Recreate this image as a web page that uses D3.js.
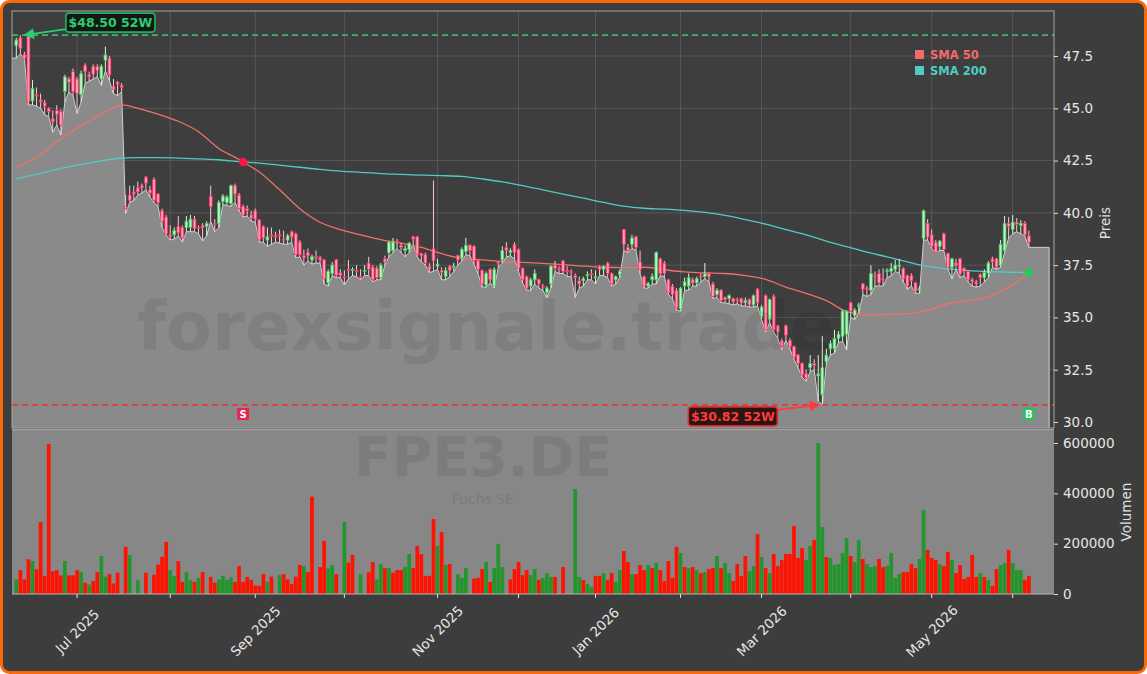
<!DOCTYPE html>
<html><head><meta charset="utf-8">
<script src="https://cdn.jsdelivr.net/npm/d3@7"></script>
<style>html,body{margin:0;padding:0;background:#fff;overflow:hidden}svg{display:block;font-family:'DejaVu Sans',sans-serif}</style>
</head><body><svg id="c" width="1147" height="674"></svg>
<script>
// ---------- DATA (one bar per XETRA trading day, 10 Jun 2025 .. 5 Jun 2026) ----------
const opens = [
47.99,48.38,47.58,48.45,45.35,45.65,45.40,45.28,45.00,44.50,
44.90,44.85,45.80,46.40,46.75,46.40,45.65,47.05,46.60,47.00,
47.00,46.40,47.30,47.40,46.05,46.25,46.10,40.30,40.85,41.00,
41.20,41.30,41.70,41.10,41.60,40.90,40.10,39.80,38.95,38.95,
39.35,39.30,39.30,39.30,39.70,39.30,39.40,39.35,40.80,39.50,
39.50,40.55,40.50,40.45,41.30,40.85,40.30,40.20,39.90,40.10,
39.66,39.35,38.70,38.95,38.90,38.95,38.75,38.70,39.10,39.00,
38.60,37.95,38.10,37.75,37.90,37.85,37.75,36.65,37.10,37.75,
37.15,36.95,37.30,37.30,37.25,36.95,37.25,37.60,37.40,37.35,
36.90,37.80,38.10,38.20,38.65,38.45,38.20,38.25,38.85,38.85,
38.05,38.00,37.45,38.30,37.45,37.25,36.95,37.45,37.40,37.95,
37.85,38.15,38.45,38.40,37.70,37.25,36.55,37.30,36.50,37.65,
37.75,38.35,38.10,38.50,38.25,37.35,36.95,36.50,36.80,36.80,
36.50,36.20,36.60,37.50,37.35,37.70,37.25,37.20,37.00,36.75,
36.75,37.00,37.10,36.90,37.45,37.30,37.60,37.10,36.80,37.05,
39.20,38.35,38.50,38.85,37.65,36.95,36.50,36.80,36.80,37.80,
37.60,36.80,36.50,36.30,35.40,36.50,36.50,36.80,36.65,37.00,
36.95,37.10,36.60,36.10,36.30,35.95,35.90,35.90,35.85,35.90,
35.70,35.85,35.60,36.35,35.05,36.05,34.90,36.00,34.60,33.90,
34.60,33.90,33.60,33.20,32.80,32.30,32.60,32.80,32.20,31.30,
32.90,33.50,33.50,34.00,34.10,34.20,35.70,35.10,35.55,36.60,
36.40,36.30,37.00,37.10,36.85,37.20,37.20,37.30,37.45,37.35,
37.00,37.00,36.65,36.30,38.78,39.50,38.95,38.60,38.40,39.00,
38.05,37.40,37.60,37.80,37.35,37.20,36.80,36.70,37.05,36.90,
37.10,37.80,37.80,37.50,38.20,39.50,39.20,39.55,39.40,39.50,
38.90];
const highs = [
48.37,48.50,47.70,48.50,46.35,46.00,45.70,45.40,45.05,44.90,
45.15,44.95,46.60,46.50,46.90,46.50,46.80,47.15,46.75,47.10,
47.10,47.10,47.95,47.50,46.40,46.30,46.20,40.85,41.30,41.30,
41.50,41.40,41.76,41.30,41.70,40.95,40.20,39.90,39.40,39.30,
39.85,39.40,39.85,39.90,39.85,39.40,39.50,39.60,41.30,39.70,
40.60,40.90,40.85,41.35,41.40,40.95,40.40,40.35,40.10,40.20,
39.70,39.40,39.30,39.30,39.10,39.20,39.15,39.00,39.15,39.05,
38.70,38.25,38.30,38.00,38.20,37.95,37.80,37.30,37.65,37.80,
37.30,37.25,37.75,37.40,37.50,37.30,37.50,37.90,37.50,37.45,
37.60,37.95,38.65,38.80,38.75,38.55,38.45,38.60,38.90,38.90,
38.10,38.10,37.60,41.55,37.80,37.40,37.40,37.50,37.60,38.00,
38.35,38.80,38.50,38.45,37.75,37.30,37.20,37.35,37.40,37.70,
38.40,38.60,38.30,38.60,38.30,37.40,37.00,36.90,37.30,36.85,
36.60,36.50,37.50,37.70,37.45,37.75,37.45,37.30,37.10,36.95,
36.95,37.20,37.30,37.25,37.50,37.50,37.65,37.15,37.00,37.30,
39.20,38.50,38.95,38.90,38.20,37.00,36.70,37.10,38.15,37.85,
37.70,36.85,36.60,36.40,36.45,36.90,37.10,36.90,36.95,37.10,
37.60,37.15,36.70,36.40,36.35,36.00,36.10,35.95,35.95,35.95,
35.95,35.90,36.10,36.40,35.60,36.10,35.90,36.10,34.65,34.00,
34.65,34.00,33.65,33.25,32.85,32.50,33.20,33.00,33.20,34.10,
33.50,33.90,34.40,34.35,35.35,35.35,35.75,35.45,35.70,36.65,
36.50,37.50,37.20,37.30,37.35,37.35,37.60,37.75,37.80,37.40,
37.05,37.10,36.70,36.50,40.15,39.70,39.20,38.70,38.70,39.05,
38.10,37.85,37.80,37.85,37.40,37.25,36.90,36.80,37.10,37.30,
37.70,37.90,37.85,38.70,39.85,39.80,39.90,39.75,39.65,39.60,
39.15];
const lows = [
47.40,47.60,47.35,45.16,45.16,45.10,45.00,44.70,44.60,43.85,
44.20,43.72,45.30,45.80,45.60,44.75,45.30,46.20,46.30,46.40,
46.50,46.10,46.80,46.30,45.70,45.60,45.80,39.95,40.50,40.60,
40.85,40.95,41.10,40.75,40.50,40.30,39.30,38.95,38.70,38.75,
38.90,38.60,39.10,39.10,39.10,39.00,38.65,38.90,39.60,39.10,
39.30,40.40,40.35,40.30,40.50,40.10,39.80,39.85,39.60,39.55,
38.60,38.60,38.40,38.50,38.60,38.55,38.50,38.50,38.60,37.85,
37.90,37.50,37.70,37.55,37.60,37.60,36.60,36.50,37.00,36.90,
36.90,36.55,36.85,37.00,36.95,36.80,37.00,37.00,36.70,36.80,
36.80,37.50,37.90,38.10,38.30,38.10,37.90,38.10,38.50,37.90,
37.65,37.50,37.15,37.20,37.30,36.80,36.80,36.95,37.20,37.50,
37.70,38.00,37.95,37.55,37.10,36.45,36.45,36.65,36.40,37.40,
37.60,37.90,37.95,37.80,37.20,36.65,36.30,36.30,36.60,36.40,
36.30,35.95,36.40,37.20,37.10,37.10,36.95,36.95,35.95,36.40,
36.50,36.80,36.80,36.60,37.00,37.00,36.90,36.50,36.60,36.90,
38.20,38.10,38.30,38.20,37.10,36.40,36.40,36.60,36.60,37.00,
36.95,36.10,35.90,35.35,35.30,36.30,36.30,36.50,36.50,36.70,
36.85,36.70,35.90,35.95,35.70,35.70,35.65,35.60,35.65,35.55,
35.55,35.50,35.50,35.55,34.90,34.30,34.75,34.30,34.00,33.45,
33.90,33.50,33.00,32.60,32.15,31.95,32.40,32.50,31.00,30.82,
32.80,33.20,33.30,33.80,33.85,33.45,35.00,34.90,35.20,36.10,
36.00,36.10,36.50,36.50,36.50,36.90,37.00,37.20,37.10,36.70,
36.35,36.50,36.15,36.15,38.70,38.70,38.30,38.10,38.20,38.20,
37.30,36.85,37.30,36.90,37.00,36.70,36.50,36.45,36.50,36.70,
36.90,37.40,37.30,37.40,38.10,38.80,39.00,39.10,39.00,38.90,
38.35];
const closes = [
48.26,47.87,47.39,45.30,45.95,45.60,45.30,45.10,44.85,44.35,
44.70,44.20,46.50,46.25,45.80,45.70,46.65,46.75,46.50,46.62,
46.80,47.00,47.55,46.60,45.90,46.15,46.00,40.20,40.60,40.90,
41.00,41.20,41.42,40.95,40.60,40.50,39.60,39.00,38.85,39.15,
39.05,38.80,39.60,39.70,39.25,39.25,39.30,39.50,40.30,39.45,
40.50,40.80,40.75,41.30,40.90,40.20,39.90,40.10,39.75,39.70,
38.70,38.80,38.85,38.90,38.85,38.90,38.70,38.90,38.85,38.00,
38.00,37.85,37.95,37.90,37.85,37.75,36.85,37.20,37.50,37.00,
37.00,36.90,37.25,37.30,37.20,36.90,37.25,37.30,36.80,36.90,
37.50,37.65,38.60,38.60,38.60,38.35,38.30,38.55,38.75,38.00,
37.95,37.60,37.30,37.70,37.55,37.15,37.25,37.25,37.45,37.75,
38.25,38.45,38.20,37.70,37.30,36.60,37.10,36.80,37.30,37.60,
38.20,38.20,38.20,38.10,37.35,36.80,36.40,36.80,37.10,36.60,
36.45,36.40,37.45,37.35,37.30,37.20,37.20,37.15,36.90,36.60,
36.85,37.05,37.05,36.95,37.30,37.45,37.10,36.60,36.95,37.20,
38.50,38.20,38.80,38.35,37.30,36.50,36.62,36.95,38.10,37.10,
37.10,36.20,36.10,35.45,36.40,36.70,36.90,36.65,36.85,36.95,
37.10,36.95,36.00,36.30,35.80,35.85,36.05,35.75,35.80,35.70,
35.80,35.60,36.05,35.70,35.50,34.40,35.85,34.40,34.30,33.60,
34.15,33.60,33.10,32.80,32.25,32.10,32.80,32.70,32.30,32.60,
33.20,33.75,34.00,34.20,35.30,35.30,35.30,35.35,35.60,36.35,
36.35,37.10,36.95,36.65,36.80,37.25,37.35,37.50,37.50,36.85,
36.50,36.75,36.25,36.40,40.10,38.85,38.40,38.10,38.65,38.25,
37.40,37.80,37.50,37.10,37.20,36.80,36.70,36.60,36.90,37.15,
37.60,37.65,37.40,38.50,39.50,39.35,39.55,39.45,39.50,38.95,
38.60];
// volume in thousands of shares
const volumeK = [
58,95,58,138,131,98,286,72,596,91,
95,74,131,74,74,95,87,45,38,52,
87,151,69,79,42,85,0,188,155,0,
56,0,85,0,77,117,148,207,95,72,
131,48,87,56,48,64,87,0,68,45,
58,72,56,66,48,111,48,68,56,34,
32,79,48,69,0,75,79,58,40,69,
115,111,87,387,0,107,211,101,115,79,
0,286,125,155,0,79,0,87,127,58,
119,103,103,85,95,95,107,159,103,191,
159,72,72,298,191,246,115,119,0,79,
64,103,0,61,64,99,127,48,103,199,
107,0,58,99,127,75,95,75,99,56,
64,83,68,68,0,107,0,0,417,68,
56,40,28,72,72,83,56,83,48,95,
171,127,79,79,115,95,115,103,123,95,
52,131,64,187,163,107,103,107,95,83,
87,99,103,151,103,123,83,52,119,72,
151,91,111,238,147,103,83,159,111,135,
159,159,270,143,183,135,191,215,600,266,
147,143,115,119,163,222,151,127,215,139,
119,107,111,139,107,111,163,64,79,87,
87,119,103,139,334,175,143,135,119,111,
167,135,83,115,60,68,155,68,83,68,
56,32,99,115,123,175,123,95,95,56,
72];
// volume bar colour: g = up day, r = down day
const volumeDir = ("grrrgrrrrr"+"rrgrrrgrgr"+"rggrrrrrgr"+"grrrrrrrgg"+"rrggrgrrrr"+
  "ggggrrrrrr"+"rrgrrgrrrr"+"rgrrrrrggr"+"rgrrrgrrrg"+"grgrrrggrr"+
  "rrrrgrgrrg"+"ggrrrrgrgg"+"grrrrrrggr"+"gggrrrrrgg"+"rggrrgrrgg"+
  "rrgrrrgrgr"+"rrrrgrgrgr"+"grrgrggrrr"+"rggrgrgrrr"+"rrrrrggrgg"+
  "rgggggrggr"+"gggrrggggr"+"rrrggrrrgr"+"rgrrrrrrgr"+"grrggrgggrr").split("");
// moving averages (bar index, value)
const sma50Idx = [0,5,10,15,20,25,26,30,35,40,45,50,55,56,60,65,70,75,80,85,90,95,100,105,110,115,120,125,130,135,140,145,150,155,160,165,170,175,180,185,190,195,200,205,210,215,220,225,230,235,240,245,250];
const sma50 = [42.20,42.65,43.40,44.05,44.60,45.10,45.16,45.00,44.72,44.38,43.88,43.08,42.55,42.43,41.95,41.10,40.20,39.55,39.20,38.95,38.72,38.55,38.35,38.05,37.82,37.75,37.67,37.63,37.58,37.52,37.45,37.40,37.38,37.40,37.28,37.18,37.13,37.10,37.00,36.82,36.45,36.15,35.80,35.28,35.12,35.15,35.18,35.35,35.65,35.80,36.00,36.45,37.14];
const sma200Idx = [0,5,10,15,20,25,30,35,40,45,50,55,60,65,70,75,80,85,90,95,100,105,110,115,120,125,130,135,140,145,150,155,160,165,170,175,180,185,190,195,200,205,210,215,220,225,230,235,240,245,250];
const sma200 = [41.62,41.85,42.08,42.28,42.45,42.60,42.64,42.64,42.62,42.58,42.54,42.45,42.38,42.28,42.18,42.08,42.00,41.94,41.88,41.84,41.80,41.78,41.74,41.62,41.48,41.30,41.10,40.90,40.70,40.50,40.32,40.22,40.18,40.12,40.02,39.88,39.68,39.46,39.20,38.95,38.65,38.38,38.12,37.90,37.66,37.44,37.32,37.24,37.19,37.16,37.15];
const monthTickIdx = [15,38,59,81,104,124,143,164,184,206,226,246];
const monthTickLabels = ["Jul 2025","","Sep 2025","","Nov 2025","","Jan 2026","","Mar 2026","","May 2026",""];
const priceTicks = [30,32.5,35,37.5,40,42.5,45,47.5];
const volumeTicks = [0,200000,400000,600000];
const high52 = 48.50, high52Idx = 2;
const low52 = 30.82, low52Idx = 199;
const crossDownIdx = 56, crossUpIdx = 250;
const areaEndIdx = 255;
const ticker = "FPE3.DE", company = "Fuchs SE", watermark = "forexsignale.trade";

// ---------- CHART ----------
const W = 1147, H = 674;
const PL = 12, PR = 1054, PT = 11, PB = 428, VT = 430, VB = 594;
const svg = d3.select("#c");
const x = d3.scaleLinear().domain([-1.06, 256.2]).range([PL, PR]);
const yP = d3.scaleLinear().domain([29.713, 49.652]).range([PB, PT]);
const yV = d3.scaleLinear().domain([0, 651700]).range([VB, VT]);
const idx = d3.range(closes.length);

const defs = svg.append("defs");
defs.append("clipPath").attr("id","cp").append("rect").attr("x",PL).attr("y",PT).attr("width",PR-PL).attr("height",PB-PT);
defs.append("clipPath").attr("id","cv").append("rect").attr("x",PL).attr("y",VT).attr("width",PR-PL).attr("height",VB-VT);
function arrowMarker(id, col){
  defs.append("marker").attr("id",id).attr("viewBox","0 0 10 10").attr("refX",9).attr("refY",5)
    .attr("markerWidth",6).attr("markerHeight",6).attr("orient","auto")
    .append("path").attr("d","M0,0L10,5L0,10z").attr("fill",col);
}
arrowMarker("ag","#2ecc71"); arrowMarker("ar","#ff3b3b");

// figure background + orange frame
svg.append("rect").attr("x",1.5).attr("y",1.5).attr("width",W-3).attr("height",H-3).attr("rx",8)
  .attr("fill","#3d3d3d").attr("stroke","#f76a0c").attr("stroke-width",3);

// ---- price panel ----
const gp = svg.append("g").attr("clip-path","url(#cp)");
gp.append("rect").attr("x",PL).attr("y",PT).attr("width",PR-PL).attr("height",PB-PT).attr("fill","#3e3e3e");
gp.selectAll("line.gy").data(priceTicks).join("line").attr("x1",PL).attr("x2",PR)
  .attr("y1",d=>yP(d)).attr("y2",d=>yP(d)).attr("stroke","#5d5d5d").attr("stroke-width",0.8);
gp.selectAll("line.gx").data(monthTickIdx).join("line").attr("y1",PT).attr("y2",PB)
  .attr("x1",d=>x(d)).attr("x2",d=>x(d)).attr("stroke","#5d5d5d").attr("stroke-width",0.8);

const areaPts = [[x.domain()[0], lows[0]]].concat(idx.map(i=>[i,lows[i]])).concat([[areaEndIdx, lows[lows.length-1]]]);
gp.append("path").datum(areaPts)
  .attr("d", d3.area().x(d=>x(d[0])).y0(PB).y1(d=>yP(d[1])))
  .attr("fill","#8a8a8a");
gp.append("path").datum(areaPts.concat([[areaEndIdx, yP.domain()[0]]]))
  .attr("d", d3.line().x(d=>x(d[0])).y(d=>yP(d[1])))
  .attr("fill","none").attr("stroke","#cfcfcf").attr("stroke-width",1);

// watermark
svg.append("text").attr("x",486).attr("y",350).attr("text-anchor","middle")
  .attr("font-size",67).attr("font-weight","bold").attr("fill","#000").attr("fill-opacity",0.08).text(watermark);

// moving averages
const sline = d3.line().x(d=>x(d[0])).y(d=>yP(d[1])).curve(d3.curveMonotoneX);
gp.append("path").datum(sma200Idx.map((d,i)=>[d,sma200[i]])).attr("d",sline)
  .attr("fill","none").attr("stroke","#4ecdc4").attr("stroke-width",1.3);
gp.append("path").datum(sma50Idx.map((d,i)=>[d,sma50[i]])).attr("d",sline)
  .attr("fill","none").attr("stroke","#f0706a").attr("stroke-width",1.3);

// candles
const up = i => closes[i] >= opens[i];
gp.selectAll("line.wick").data(idx).join("line")
  .attr("x1",i=>x(i)).attr("x2",i=>x(i)).attr("y1",i=>yP(highs[i])).attr("y2",i=>yP(lows[i]))
  .attr("stroke",i=>up(i)?"#d6f5d6":"#f7c8d4").attr("stroke-width",1);
gp.selectAll("rect.body").data(idx).join("rect")
  .attr("x",i=>x(i)-1.4).attr("width",2.8)
  .attr("y",i=>yP(Math.max(opens[i],closes[i])))
  .attr("height",i=>Math.max(1.2, Math.abs(yP(opens[i])-yP(closes[i]))))
  .attr("fill",i=>up(i)?"#bff0c4":"#ff9db5")
  .attr("stroke",i=>up(i)?"#3cc85a":"#ff2e63").attr("stroke-width",0.8);

// 52W lines
gp.append("line").attr("x1",PL).attr("x2",PR).attr("y1",yP(high52)).attr("y2",yP(high52))
  .attr("stroke","#3cb371").attr("stroke-width",1.6).attr("stroke-dasharray","6,4");
gp.append("line").attr("x1",PL).attr("x2",PR).attr("y1",yP(low52)).attr("y2",yP(low52))
  .attr("stroke","#e03c3c").attr("stroke-width",1.6).attr("stroke-dasharray","6,4");

// cross dots
const cdY = d3.scaleLinear().domain(sma50Idx).range(sma50);
svg.append("circle").attr("cx",x(crossDownIdx)).attr("cy",yP(cdY(crossDownIdx))).attr("r",4.2).attr("fill","#ff1744");
svg.append("circle").attr("cx",x(crossUpIdx)).attr("cy",yP(cdY(crossUpIdx))).attr("r",4.2).attr("fill","#22cc55");

// S / B markers
function sig(i, letter, col){
  const cx = x(i), cy = 414;
  svg.append("rect").attr("x",cx-6).attr("y",cy-6).attr("width",12).attr("height",12).attr("rx",1.5).attr("fill",col);
  svg.append("text").attr("x",cx).attr("y",cy+4).attr("text-anchor","middle").attr("font-size",10)
    .attr("font-weight","bold").attr("fill","#fff").text(letter);
}
sig(crossDownIdx,"S","#e8254f");
sig(crossUpIdx,"B","#22c55e");

// annotations
function note(txt, tipX, tipY, bx, by, col, bg, border, mk, fromX, fromY){
  svg.append("line").attr("x1",fromX).attr("y1",fromY).attr("x2",tipX).attr("y2",tipY)
    .attr("stroke",col).attr("stroke-width",1.8).attr("marker-end","url(#"+mk+")");
  svg.append("rect").attr("x",bx-44.5).attr("y",by-9.5).attr("width",89).attr("height",19).attr("rx",3)
    .attr("fill",bg).attr("stroke",border).attr("stroke-width",1.6);
  svg.append("text").attr("x",bx).attr("y",by+4.6).attr("text-anchor","middle").attr("font-size",12.5)
    .attr("font-weight","bold").attr("fill",col).text(txt);
}
const hx = x(high52Idx), hy = yP(high52);
note("$"+high52.toFixed(2)+" 52W", hx, hy, hx+86, hy-12.5, "#2ecc71", "#101a13", "#27ae60", "ag", hx+41.5, hy-6);
const lx = x(low52Idx)-3, ly = yP(low52);
note("$"+low52.toFixed(2)+" 52W", lx, ly, lx-86.5, ly+11.5, "#ff3b3b", "#2a1515", "#d63030", "ar", lx-42, ly+5);

// legend
const leg = [["SMA 50","#f56b6b"],["SMA 200","#4ecdc4"]];
leg.forEach((d,k)=>{
  svg.append("rect").attr("x",915).attr("y",50+k*16).attr("width",9).attr("height",9).attr("fill",d[1]);
  svg.append("text").attr("x",930).attr("y",59+k*16).attr("font-size",11.5).attr("font-weight","bold")
    .attr("fill",d[1]).text(d[0]);
});

// price panel frame + right axis
svg.append("rect").attr("x",PL).attr("y",PT).attr("width",PR-PL).attr("height",PB-PT)
  .attr("fill","none").attr("stroke","#a5a5a5").attr("stroke-width",1);
const ax = svg.append("g").attr("transform",`translate(${PR},0)`)
  .call(d3.axisRight(yP).tickValues(priceTicks).tickFormat(d3.format(".1f")).tickSize(4).tickPadding(5));
ax.select(".domain").remove();
ax.selectAll("line").attr("stroke","#dddddd");
ax.selectAll("text").attr("fill","#e6e6e6").attr("font-size",13.5).attr("font-family","DejaVu Sans");
svg.append("text").attr("transform","translate(1110,223) rotate(-90)").attr("text-anchor","middle")
  .attr("font-size",13.5).attr("fill","#e0e0e0").text("Preis");

// ---- volume panel ----
svg.append("rect").attr("x",PL).attr("y",VT).attr("width",PR-PL).attr("height",VB-VT).attr("fill","#878787");
svg.append("text").attr("x",483).attr("y",476).attr("text-anchor","middle").attr("font-size",55)
  .attr("font-weight","bold").attr("fill","#000").attr("fill-opacity",0.08).text(ticker);
svg.append("text").attr("x",483).attr("y",504).attr("text-anchor","middle").attr("font-size",14)
  .attr("fill","#000").attr("fill-opacity",0.1).text(company);
const gv = svg.append("g").attr("clip-path","url(#cv)");
gv.selectAll("rect.v").data(idx).join("rect")
  .attr("x",i=>x(i)-1.85).attr("width",3.7)
  .attr("y",i=>yV(volumeK[i]*1000)).attr("height",i=>VB-yV(volumeK[i]*1000))
  .attr("fill",i=>volumeDir[i]==="g"?"#22962a":"#ff1200");
svg.append("line").attr("x1",PL).attr("x2",PR).attr("y1",PB+1.5).attr("y2",PB+1.5).attr("stroke","#a0a0a0").attr("stroke-width",1.5);
svg.append("line").attr("x1",PL).attr("x2",PR).attr("y1",VB).attr("y2",VB).attr("stroke","#b5b5b5").attr("stroke-width",1);
const av = svg.append("g").attr("transform",`translate(${PR},0)`)
  .call(d3.axisRight(yV).tickValues(volumeTicks).tickFormat(d3.format("d")).tickSize(4).tickPadding(5));
av.select(".domain").remove();
av.selectAll("line").attr("stroke","#dddddd");
av.selectAll("text").attr("fill","#e6e6e6").attr("font-size",13.5).attr("font-family","DejaVu Sans");
svg.append("text").attr("transform","translate(1131,512) rotate(-90)").attr("text-anchor","middle")
  .attr("font-size",13.5).attr("fill","#e0e0e0").text("Volumen");

// x axis
svg.selectAll("line.xt").data(monthTickIdx).join("line")
  .attr("x1",d=>x(d)).attr("x2",d=>x(d)).attr("y1",VB).attr("y2",VB+4).attr("stroke","#e0e0e0").attr("stroke-width",1);
svg.selectAll("text.xl").data(monthTickIdx.map((d,i)=>[d,monthTickLabels[i]]).filter(d=>d[1])).join("text")
  .attr("transform",d=>`translate(${x(d[0])},631) rotate(-45)`)
  .attr("text-anchor","middle").attr("dominant-baseline","central")
  .attr("font-size",13.5).attr("fill","#e6e6e6").text(d=>d[1]);
</script></body></html>
